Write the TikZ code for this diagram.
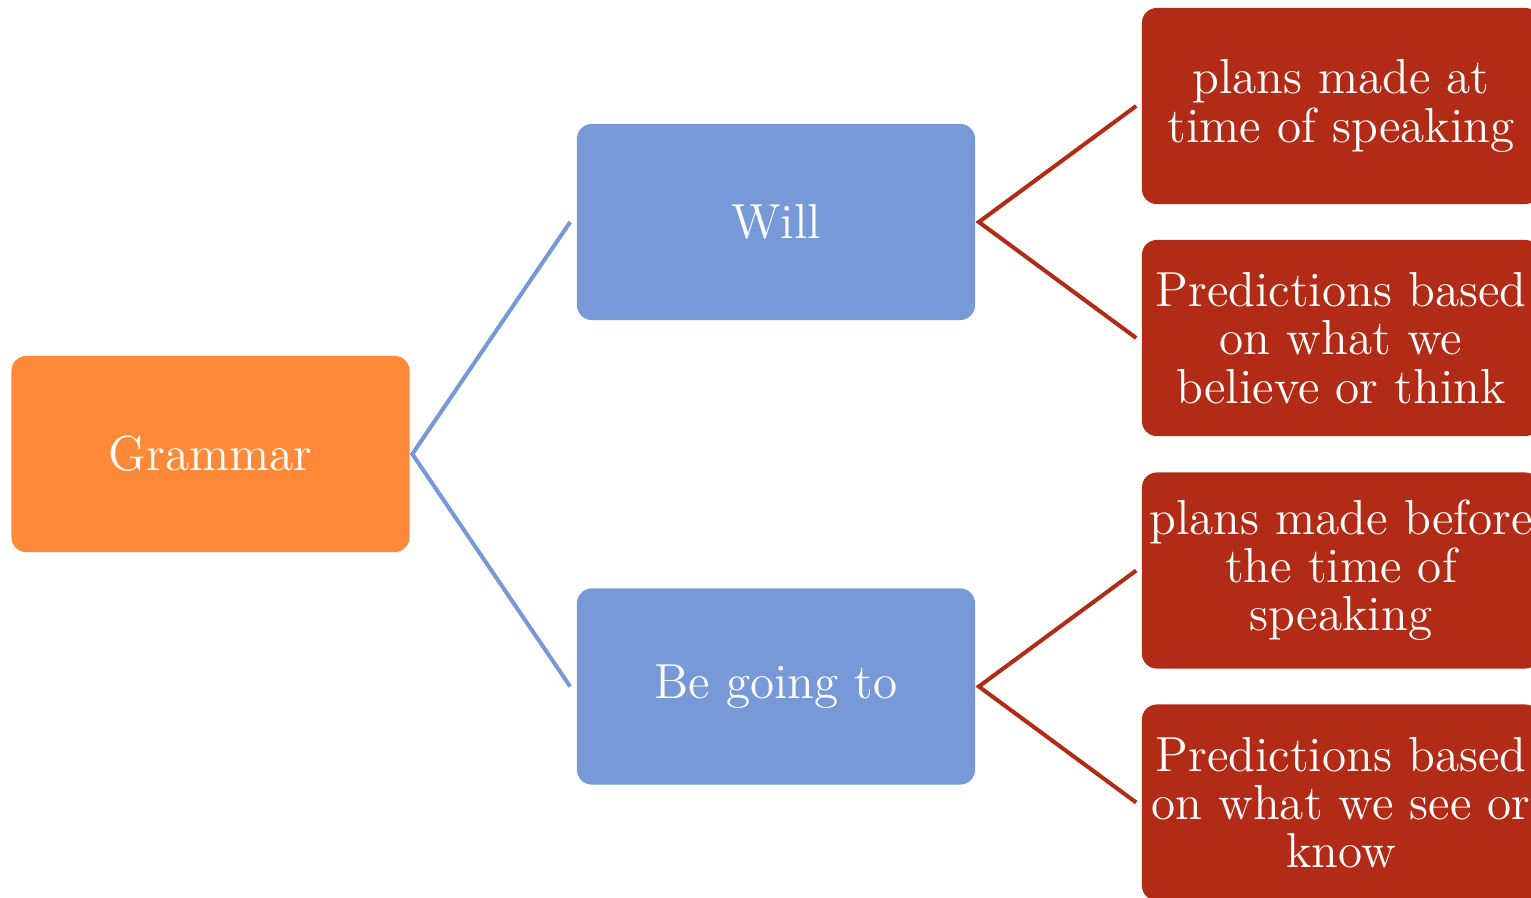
\documentclass[tikz,border=0pt]{standalone}
\usetikzlibrary{calc}
\definecolor{gorange}{RGB}{254,137,57}
\definecolor{gblue}{RGB}{119,153,215}
\definecolor{gred}{RGB}{178,43,23}
\begin{document}
\begin{tikzpicture}[x=0.01cm,y=-0.01cm,
  box/.style={rounded corners=0.15cm,minimum width=3.98cm,minimum height=1.96cm,inner sep=0pt,
    text=white,align=center,font=\fontsize{14}{13.7}\selectfont},
  obox/.style={box,fill=gorange},
  bbox/.style={box,fill=gblue},
  rbox/.style={box,fill=gred},
  bline/.style={draw=gblue,line width=1.15pt},
  rline/.style={draw=gred,line width=1.15pt}]
\useasboundingbox (0,0) rectangle (1531,897);
\begin{scope}
\clip (0,0) rectangle (1531,897);
\node[obox] (g) at (210.5,454) {Grammar};
\node[bbox] (will) at (776,222) {Will};
\node[bbox] (bgt) at (776,686.5) {Be going to};
\node[rbox] (r1) at (1341,106) {plans made at\\time of speaking};
\node[rbox] (r2) at (1341,338) {Predictions based\\on what we\\believe or think};
\node[rbox] (r3) at (1341,570.5) {plans made before\\the time of\\speaking};
\node[rbox] (r4) at (1341,802.5) {Predictions based\\on what we see or\\know};
\draw[bline] ($(will.west)+(-6,0)$) -- ($(g.east)+(2,0)$) -- ($(bgt.west)+(-6,0)$);
\draw[rline] ($(r1.west)+(-5,0)$) -- ($(will.east)+(3,0)$) -- ($(r2.west)+(-5,0)$);
\draw[rline] ($(r3.west)+(-5,0)$) -- ($(bgt.east)+(3,0)$) -- ($(r4.west)+(-5,0)$);
\end{scope}
\end{tikzpicture}
\end{document}
